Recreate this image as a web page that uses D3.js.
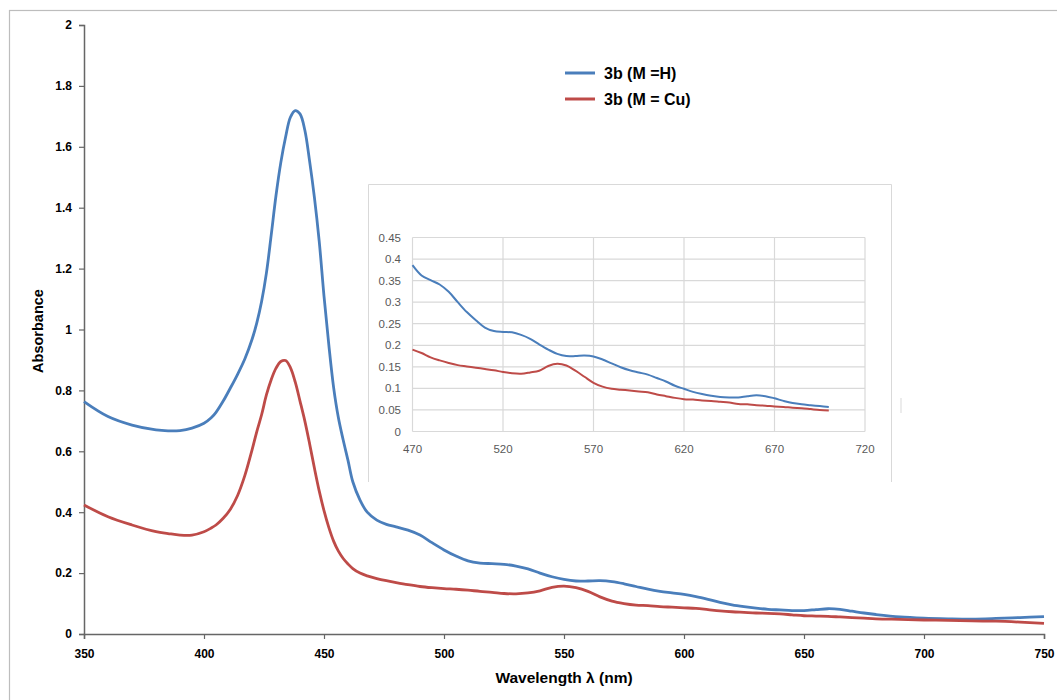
<!DOCTYPE html>
<html><head><meta charset="utf-8">
<script src="https://cdn.jsdelivr.net/npm/d3@7"></script>
<style>body{margin:0;background:#fff}svg{display:block}</style>
</head><body>
<script>
// ---- data ----
const mainWavelength = [350,360,370,380,385,390,395,400,403,405,408,411,414,417,420,422,424,426,428,430,432,434,436,438,440,442,444,446,448,450,452,454,456,458,460,462,465,468,472,476,480,485,490,495,500,505,510,515,520,525,530,535,540,545,550,555,560,565,570,575,580,585,590,595,600,605,610,615,620,625,630,635,640,645,650,655,660,665,670,675,680,690,700,710,720,730,740,750];
const blueMain = [0.763,0.714,0.686,0.670,0.667,0.668,0.676,0.692,0.710,0.728,0.765,0.808,0.853,0.903,0.967,1.022,1.092,1.185,1.31,1.44,1.548,1.632,1.697,1.719,1.708,1.655,1.553,1.434,1.29,1.11,0.95,0.81,0.71,0.637,0.57,0.50,0.44,0.40,0.374,0.360,0.352,0.341,0.325,0.300,0.276,0.256,0.240,0.233,0.231,0.229,0.223,0.214,0.200,0.188,0.179,0.174,0.174,0.175,0.172,0.165,0.156,0.147,0.140,0.135,0.130,0.123,0.114,0.104,0.096,0.090,0.085,0.081,0.079,0.077,0.077,0.080,0.083,0.081,0.075,0.069,0.064,0.056,0.052,0.050,0.049,0.051,0.054,0.057];
const redMain = [0.424,0.385,0.358,0.336,0.330,0.325,0.325,0.336,0.348,0.358,0.380,0.410,0.455,0.520,0.604,0.665,0.720,0.785,0.835,0.873,0.895,0.898,0.875,0.828,0.765,0.700,0.625,0.545,0.470,0.405,0.350,0.305,0.272,0.248,0.230,0.215,0.200,0.191,0.182,0.175,0.169,0.162,0.156,0.152,0.149,0.147,0.144,0.140,0.137,0.133,0.132,0.135,0.142,0.153,0.157,0.152,0.140,0.122,0.108,0.100,0.095,0.093,0.090,0.088,0.086,0.084,0.080,0.076,0.073,0.071,0.069,0.068,0.066,0.063,0.060,0.059,0.058,0.056,0.054,0.052,0.050,0.048,0.046,0.045,0.043,0.042,0.039,0.035];
const mainXTicks = [350,400,450,500,550,600,650,700,750];
const mainYTicks = [0,0.2,0.4,0.6,0.8,1,1.2,1.4,1.6,1.8,2];

const insetWavelength = [470,475,480,485,490,495,500,505,510,515,520,525,530,535,540,545,550,555,560,565,570,575,580,585,590,595,600,605,610,615,620,625,630,635,640,645,650,655,660,665,670,675,680,685,690,695,700];
const blueInset = [0.386,0.362,0.351,0.341,0.324,0.300,0.277,0.258,0.241,0.233,0.231,0.230,0.224,0.215,0.202,0.190,0.180,0.175,0.175,0.176,0.174,0.167,0.158,0.149,0.142,0.137,0.132,0.124,0.116,0.106,0.099,0.092,0.087,0.083,0.080,0.079,0.079,0.082,0.084,0.082,0.077,0.071,0.066,0.063,0.061,0.059,0.057];
const redInset = [0.190,0.182,0.172,0.165,0.159,0.154,0.151,0.148,0.145,0.142,0.138,0.135,0.134,0.137,0.141,0.152,0.157,0.153,0.141,0.127,0.113,0.104,0.099,0.097,0.095,0.093,0.091,0.086,0.082,0.078,0.075,0.074,0.072,0.071,0.069,0.067,0.064,0.063,0.061,0.060,0.058,0.057,0.055,0.054,0.052,0.050,0.049];
const insetXTicks = [470,520,570,620,670,720];
const insetYTicks = [0,0.05,0.1,0.15,0.2,0.25,0.3,0.35,0.4,0.45];

const seriesNames = ["3b (M =H)", "3b (M = Cu)"];
const colors = ["#4a7ebb", "#be4b48"];

// ---- drawing ----
const W = 1057, H = 700;
const svg = d3.select("body").append("svg").attr("width", W).attr("height", H);
const font = "'Liberation Sans', Arial, sans-serif";

// outer frame
svg.append("rect").attr("x", 9.5).attr("y", 10.5).attr("width", 1100).attr("height", 1000)
  .attr("fill", "none").attr("stroke", "#bdbdbd").attr("stroke-width", 1.2);

const x = d3.scaleLinear().domain([350, 750]).range([84, 1044]);
const y = d3.scaleLinear().domain([0, 2]).range([634, 25]);

// inset frame (three sides)
svg.append("path").attr("d", "M368.5,482 L368.5,184.5 L891.5,184.5 L891.5,482")
  .attr("fill", "none").attr("stroke", "#d9d9d9").attr("stroke-width", 1);
svg.append("line").attr("x1", 901).attr("x2", 901).attr("y1", 398).attr("y2", 413)
  .attr("stroke", "#d9d9d9").attr("stroke-width", 1);

const xi = d3.scaleLinear().domain([470, 720]).range([412.5, 865]);
const yi = d3.scaleLinear().domain([0, 0.45]).range([431.5, 237.5]);

const inset = svg.append("g");
inset.selectAll("line.hg").data(insetYTicks).join("line")
  .attr("x1", xi(470)).attr("x2", xi(720)).attr("y1", d => yi(d)).attr("y2", d => yi(d))
  .attr("stroke", "#d9d9d9").attr("stroke-width", 1.2);
inset.selectAll("line.vg").data(insetXTicks).join("line")
  .attr("y1", yi(0)).attr("y2", yi(0.45)).attr("x1", d => xi(d)).attr("x2", d => xi(d))
  .attr("stroke", "#d9d9d9").attr("stroke-width", 1.2);
inset.selectAll("text.yl").data(insetYTicks).join("text")
  .attr("x", 401).attr("y", d => yi(d)).attr("dy", "0.35em").attr("text-anchor", "end")
  .attr("font-family", font).attr("font-size", 11.5).attr("fill", "#595959")
  .text(d => d3.format("")(d));
inset.selectAll("text.xl").data(insetXTicks).join("text")
  .attr("x", d => xi(d)).attr("y", 448.5).attr("dy", "0.35em").attr("text-anchor", "middle")
  .attr("font-family", font).attr("font-size", 11.5).attr("fill", "#595959")
  .text(d => d);

const lineI = d3.line().x((d, i) => xi(insetWavelength[i])).y(d => yi(d)).curve(d3.curveCatmullRom);
[blueInset, redInset].forEach((s, k) => {
  inset.append("path").attr("d", lineI(s)).attr("fill", "none")
    .attr("stroke", colors[k]).attr("stroke-width", 2);
});

// main axes
const axisColor = "#666";
const gx = svg.append("g").attr("transform", `translate(0,${y(0)})`)
  .call(d3.axisBottom(x).tickValues(mainXTicks).tickSize(5).tickFormat(d3.format("d")));
const gy = svg.append("g").attr("transform", `translate(${x(350)},0)`)
  .call(d3.axisLeft(y).tickValues(mainYTicks).tickSize(5).tickFormat(d3.format("")));
[gx, gy].forEach(g => {
  g.select(".domain").attr("stroke", axisColor).attr("stroke-width", 1.5);
  g.selectAll(".tick line").attr("stroke", axisColor).attr("stroke-width", 1.2);
  g.selectAll(".tick text").attr("font-family", font).attr("font-size", 12)
    .attr("font-weight", "bold").attr("fill", "#000");
});
gx.selectAll(".tick text").attr("dy", "0").attr("y", 24);
gy.selectAll(".tick text").attr("x", -12);

// main lines
const lineM = d3.line().x((d, i) => x(mainWavelength[i])).y(d => y(d)).curve(d3.curveCatmullRom);
[blueMain, redMain].forEach((s, k) => {
  svg.append("path").attr("d", lineM(s)).attr("fill", "none")
    .attr("stroke", colors[k]).attr("stroke-width", 2.8).attr("stroke-linejoin", "round");
});

// axis titles
svg.append("text").attr("x", 564).attr("y", 683).attr("text-anchor", "middle")
  .attr("font-family", font).attr("font-size", 15.5).attr("font-weight", "bold")
  .text("Wavelength λ (nm)");
svg.append("text").attr("transform", "translate(43,331) rotate(-90)").attr("text-anchor", "middle")
  .attr("font-family", font).attr("font-size", 14.5).attr("font-weight", "bold")
  .text("Absorbance");

// legend
const leg = svg.append("g");
seriesNames.forEach((n, k) => {
  const ly = 73 + k * 26;
  leg.append("line").attr("x1", 565).attr("x2", 595).attr("y1", ly).attr("y2", ly)
    .attr("stroke", colors[k]).attr("stroke-width", 3);
  leg.append("text").attr("x", 604).attr("y", ly + 5.5).attr("font-family", font)
    .attr("font-size", 16).attr("font-weight", "bold").text(n);
});
</script>
</body></html>
